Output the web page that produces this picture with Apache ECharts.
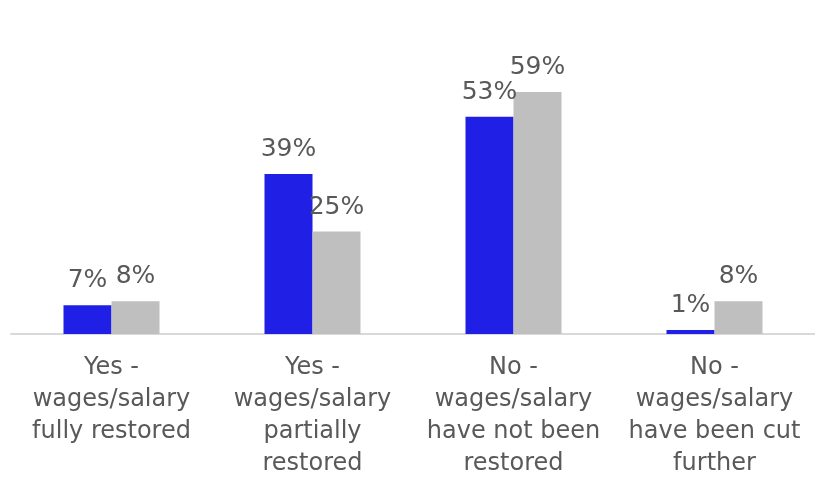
<!DOCTYPE html>
<html>
<head>
<meta charset="utf-8">
<script src="https://cdn.jsdelivr.net/npm/echarts@6/dist/echarts.min.js"></script>
<style>
  html, body { margin: 0; padding: 0; background: #ffffff; }
  #chart { width: 815px; height: 480px; }
</style>
</head>
<body>
<div id="chart"></div>
<script>
// Answer categories (line breaks as shown under the axis)
const categories = [
  'Yes -\nwages/salary\nfully restored',
  'Yes -\nwages/salary\npartially\nrestored',
  'No -\nwages/salary\nhave not been\nrestored',
  'No -\nwages/salary\nhave been cut\nfurther'
];

// Share of respondents (%) for the two groups
const seriesBlue = [7, 39, 53, 1];
const seriesGrey = [8, 25, 59, 8];

const textColor = '#595959';
const fontFamily = '"DejaVu Sans", "Noto Sans", sans-serif';

const chart = echarts.init(document.getElementById('chart'), null, { renderer: 'canvas' });

const valueLabel = {
  show: true,
  position: 'top',
  distance: 12,
  color: textColor,
  fontFamily: fontFamily,
  fontSize: 25,
  formatter: p => p.value + '%'
};

chart.setOption({
  animation: false,
  backgroundColor: '#ffffff',
  grid: { left: 11, right: -2, top: 88, bottom: 145, containLabel: false },
  xAxis: {
    type: 'category',
    data: categories,
    axisLine: { show: true, lineStyle: { color: '#d9d9d9', width: 2 } },
    axisTick: { show: false },
    axisLabel: {
      interval: 0,
      margin: 18,
      color: textColor,
      fontFamily: fontFamily,
      fontSize: 24,
      lineHeight: 32,
      align: 'center'
    }
  },
  yAxis: {
    type: 'value',
    min: 0,
    max: 60,
    show: false,
    splitLine: { show: false }
  },
  series: [
    {
      name: 'Blue',
      type: 'bar',
      data: seriesBlue,
      barWidth: 48,
      barGap: '0%',
      itemStyle: { color: '#1f1fe6' },
      label: valueLabel
    },
    {
      name: 'Grey',
      type: 'bar',
      data: seriesGrey,
      barWidth: 48,
      barGap: '0%',
      itemStyle: { color: '#bfbfbf' },
      label: valueLabel
    }
  ]
});
</script>
</body>
</html>
